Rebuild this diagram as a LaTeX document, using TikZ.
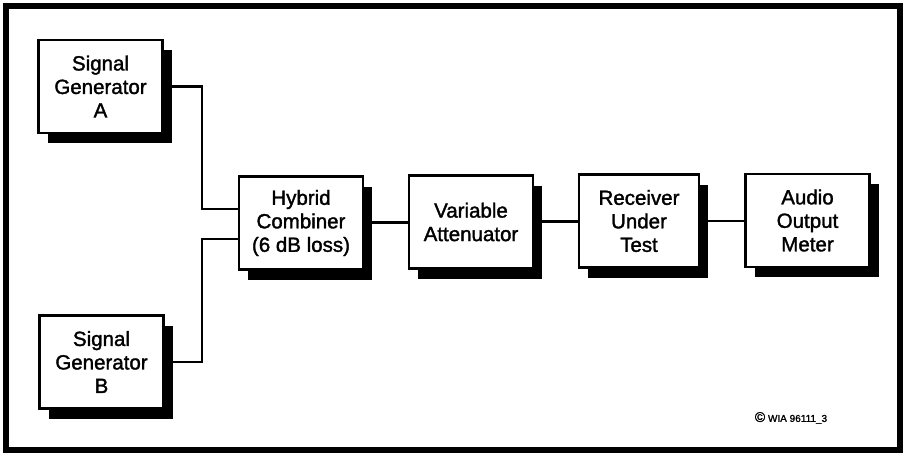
\documentclass[tikz,border=0pt]{standalone}
\usepackage{fontspec}
\setmainfont{Liberation Sans}
\newfontfamily\blkfont{Liberation Sans}[FakeBold=1.6]
\usetikzlibrary{shadows}
\begin{document}
\begin{tikzpicture}[x=1pt,y=-1pt,
  blk/.style={draw, line width=2.6pt, fill=white, align=center,
    inner sep=0pt, minimum width=124pt, minimum height=93pt,
    font=\blkfont\fontsize{20.5}{23.5}\selectfont,
    drop shadow={shadow xshift=9pt, shadow yshift=-10pt, fill=black, opacity=1}},
  wire/.style={line width=2.4pt}]
\useasboundingbox (0,0) rectangle (908,461);
\fill[white] (0,0) rectangle (908,461);
\draw[line width=6pt] (5.5,6) rectangle (900,450);

\node[blk] (A) at (100.5,86.5) {Signal\\Generator\\A};
\node[blk] (B) at (101.5,362) {Signal\\Generator\\B};
\node[blk] (H) at (301,223) {Hybrid\\Combiner\\(6 dB loss)};
\node[blk] (V) at (471,222) {Variable\\Attenuator};
\node[blk, minimum width=120pt] (R) at (639,221) {Receiver\\Under\\Test};
\node[blk] (O) at (807.5,220.5) {Audio\\Output\\Meter};

\coordinate (j1) at (202,209);
\coordinate (j2) at (202,239);
\coordinate (l1) at (0,222.5);
\coordinate (l2) at (0,221.5);
\coordinate (l3) at (0,221);
\draw[wire] (A.east) -| (j1) -- (j1 -| H.west);
\draw[wire] (B.east) -| (j2) -- (j2 -| H.west);
\draw[wire] (H.east |- l1) -- (V.west |- l1);
\draw[wire] (V.east |- l2) -- (R.west |- l2);
\draw[wire] (R.east |- l3) -- (O.west |- l3);

\node[font=\blkfont\fontsize{10}{12}\selectfont] (c) at (791,418) {{\fontsize{14}{14}\selectfont\textcopyright}\ WIA 96111\_3};
\end{tikzpicture}
\end{document}
